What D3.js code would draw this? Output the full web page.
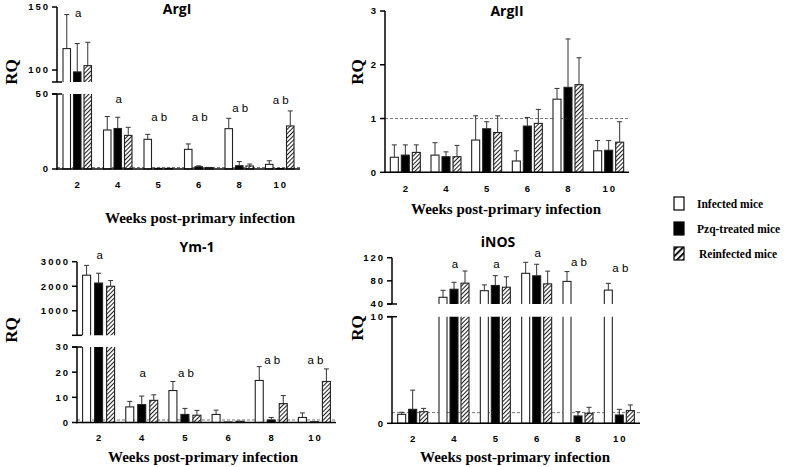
<!DOCTYPE html>
<html><head><meta charset="utf-8">
<script src="https://cdn.jsdelivr.net/npm/d3@7"></script>
<style>body{margin:0;background:#fff}svg{display:block}text{fill:#000}</style>
</head><body><svg id="c" width="787" height="467"></svg>
<script>
// ---------- DATA ----------
const weeks = ["2","4","5","6","8","10"];
const seriesNames = ["Infected mice","Pzq-treated mice","Reinfected mice"];

const argI_infected = [117, 26, 19.8, 13.1, 26.9, 3.1];
const argI_infected_sd = [27, 9, 3.3, 3.6, 6.9, 2.4];
const argI_pzq = [98.5, 27, 0.4, 1.5, 2.2, 0.3];
const argI_pzq_sd = [22.5, 7.5, 0.2, 0.6, 2.8, 0.1];
const argI_reinf = [103.5, 22.4, 0.4, 1.0, 2.0, 28.7];
const argI_reinf_sd = [18.5, 5.4, 0.2, 0.5, 1.3, 10];
const argI_sig = ["a","a","a b","a b","a b","a b"];
const argI_sigAt = [142, 44, 32, 32, 38, 43.3];

const argII_infected = [0.28, 0.32, 0.60, 0.21, 1.36, 0.40];
const argII_infected_sd = [0.23, 0.23, 0.45, 0.19, 0.20, 0.19];
const argII_pzq = [0.32, 0.29, 0.81, 0.86, 1.58, 0.41];
const argII_pzq_sd = [0.19, 0.09, 0.13, 0.16, 0.90, 0.18];
const argII_reinf = [0.37, 0.29, 0.74, 0.91, 1.63, 0.56];
const argII_reinf_sd = [0.14, 0.21, 0.31, 0.26, 0.50, 0.38];
const argII_sig = ["","","","","",""];
const argII_sigAt = [null,null,null,null,null,null];

const ym1_infected = [2450, 6.2, 12.7, 3.2, 16.7, 2.0];
const ym1_infected_sd = [400, 2.2, 3.6, 1.7, 5.5, 1.8];
const ym1_pzq = [2130, 7.1, 3.2, 0.2, 1.0, 0.3];
const ym1_pzq_sd = [400, 3.4, 2.4, 0.1, 1.0, 0.1];
const ym1_reinf = [2000, 8.8, 2.9, 0.5, 7.5, 16.3];
const ym1_reinf_sd = [230, 2.2, 1.9, 0.1, 3.2, 5.0];
const ym1_sig = ["a","a","a b","","a b","a b"];
const ym1_sigAt = [3090, 18, 18, null, 23.4, 23.4];

const inos_infected = [0.84, 51.6, 63, 93, 79, 64];
const inos_infected_sd = [0.19, 12, 10, 19, 17, 11.7];
const inos_pzq = [1.31, 65.5, 72, 88.7, 0.69, 0.78];
const inos_pzq_sd = [1.8, 12, 17, 20, 0.4, 0.53];
const inos_reinf = [1.09, 76, 69, 74.8, 0.94, 1.19];
const inos_reinf_sd = [0.31, 21, 18, 22, 0.56, 0.53];
const inos_sig = ["","a","a","a","a b","a b"];
const inos_sigAt = [null, 101.6, 101.6, 121.5, 106, 95.7];

const argI_ticksLow = [0, 50], argI_ticksHigh = [100, 150];
const argII_ticks = [0, 1, 2, 3];
const ym1_ticksLow = [0, 10, 20, 30], ym1_ticksHigh = [1000, 2000, 3000];
const inos_ticksLow = [0, 10], inos_ticksHigh = [40, 80, 120];
const refLine = 1;

// ---------- DRAW ----------
const svg = d3.select("#c");
const defs = svg.append("defs");
const pat = defs.append("pattern").attr("id","hatch").attr("patternUnits","userSpaceOnUse")
  .attr("width",3).attr("height",3).attr("patternTransform","rotate(45)");
pat.append("rect").attr("width",3).attr("height",3).attr("fill","#fff");
pat.append("line").attr("x1",0.5).attr("y1",0).attr("x2",0.5).attr("y2",3).attr("stroke","#222").attr("stroke-width",1.1);
const pat2 = defs.append("pattern").attr("id","hatchL").attr("patternUnits","userSpaceOnUse")
  .attr("width",4.5).attr("height",4.5).attr("patternTransform","rotate(45)");
pat2.append("rect").attr("width",4.5).attr("height",4.5).attr("fill","#fff");
pat2.append("line").attr("x1",1).attr("y1",0).attr("x2",1).attr("y2",4.5).attr("stroke","#111").attr("stroke-width",2);

const fills = ["#fff", "#000", "url(#hatch)"];
const tickFont = "'Liberation Sans', Arial, sans-serif";
const serif = "'Liberation Serif', 'Times New Roman', serif";
let clipId = 0;

function panel(cfg) {
  const g = svg.append("g");
  const x = d3.scaleBand().domain(weeks).range(cfg.xRange);
  const cx = w => x(w) + x.bandwidth() / 2;
  const segs = cfg.segments.map(s => Object.assign({}, s, {y: d3.scaleLinear().domain(s.domain).range(s.range)}));
  const ax = cfg.xRange[0];
  const base = segs[0].range[0];

  g.append("line").attr("x1", ax).attr("x2", cfg.xRange[1])
    .attr("y1", segs[0].y(refLine)).attr("y2", segs[0].y(refLine))
    .attr("stroke", "#777").attr("stroke-width", 1).attr("stroke-dasharray", "3,2");

  const segOf = v => {
    let idx = 0;
    for (let i = 1; i < segs.length; i++) if (v > segs[i-1].domain[1]) idx = i;
    return segs[idx];
  };

  const flat = [];
  cfg.series.forEach((s, k) => s.values.forEach((v, j) => flat.push({k, w: weeks[j], v, e: s.sd[j]})));

  segs.forEach((s, i) => {
    const id = "clip" + (clipId++);
    const top = i === 0 ? s.range[1] : s.range[1] - 40;
    const bot = i === 0 ? s.range[0] + 2 : s.range[0];
    defs.append("clipPath").attr("id", id).append("rect")
      .attr("x", ax - 2).attr("width", cfg.xRange[1] - ax + 10)
      .attr("y", top).attr("height", bot - top);
    const data = flat.filter(d => i === 0 || d.v > segs[i-1].domain[1]);
    g.append("g").attr("clip-path", `url(#${id})`).selectAll("rect").data(data).join("rect")
      .attr("x", d => cx(d.w) + (d.k - 1) * cfg.off - cfg.bw / 2)
      .attr("width", cfg.bw)
      .attr("y", d => d.v > s.domain[1] ? s.range[1] - 5 : s.y(d.v))
      .attr("height", d => {
        const t = d.v > s.domain[1] ? s.range[1] - 5 : s.y(d.v);
        const b = i === 0 ? s.range[0] : s.range[0] + 5;
        return Math.max(0, b - t);
      })
      .attr("fill", d => fills[d.k]).attr("stroke", "#222").attr("stroke-width", 1.1);
  });

  const eg = g.append("g").attr("stroke", "#333").attr("stroke-width", 1).attr("fill", "none");
  flat.forEach(d => {
    const s = segOf(d.v);
    const xx = cx(d.w) + (d.k - 1) * cfg.off;
    const y1 = s.y(d.v), y2 = s.y(d.v + d.e);
    if (y1 - y2 < 0.8) return;
    eg.append("line").attr("x1", xx).attr("x2", xx).attr("y1", y1).attr("y2", y2);
    eg.append("line").attr("x1", xx - 2.5).attr("x2", xx + 2.5).attr("y1", y2).attr("y2", y2);
  });

  const ag = g.append("g").attr("stroke", "#000").attr("stroke-width", 1.5);
  ag.append("line").attr("x1", ax - 1).attr("x2", cfg.xRange[1]).attr("y1", base).attr("y2", base);
  segs.forEach((s, i) => {
    ag.append("line").attr("x1", ax).attr("x2", ax).attr("y1", s.range[0] + (i === 0 ? 0.7 : 0)).attr("y2", s.range[1]);
    s.ticks.forEach(t => {
      ag.append("line").attr("x1", ax - 5).attr("x2", ax).attr("y1", s.y(t)).attr("y2", s.y(t));
      g.append("text").attr("x", ax - 7).attr("y", s.y(t)).attr("dy", "0.36em")
        .attr("text-anchor", "end").attr("font-family", tickFont).attr("font-weight", "bold")
        .attr("font-size", 9.5).attr("letter-spacing", "2px").text(t);
    });
  });
  if (segs.length > 1) {
    [segs[0].range[1], segs[1].range[0]].forEach(yy => {
      ag.append("line").attr("x1", ax - 5).attr("x2", ax + 5).attr("y1", yy).attr("y2", yy);
    });
  }

  g.selectAll(".xl").data(weeks).join("text")
    .attr("x", w => cx(w) + 1).attr("y", cfg.xTickY).attr("text-anchor", "middle")
    .attr("font-family", tickFont).attr("font-weight", "bold").attr("font-size", 9.5)
    .attr("letter-spacing", "2px").text(w => w);

  cfg.sig.forEach((t, j) => {
    if (!t) return;
    const s = segOf(cfg.sigAt[j] > segs[0].domain[1] ? cfg.sigAt[j] : 0);
    g.append("text").attr("x", cx(weeks[j]) + 1).attr("y", s.y(cfg.sigAt[j]))
      .attr("text-anchor", "middle").attr("font-family", tickFont).attr("font-size", 11.5).text(t);
  });

  g.append("text").attr("x", cfg.title[1]).attr("y", cfg.title[2]).attr("text-anchor", "middle")
    .attr("font-family", "'Open Sans', Lato, sans-serif").attr("font-weight", "bold").attr("font-size", 14).text(cfg.title[0]);
  g.append("text").attr("transform", `translate(${cfg.rq[0]},${cfg.rq[1]}) rotate(-90)`)
    .attr("text-anchor", "middle").attr("font-family", serif).attr("font-weight", "bold").attr("font-size", 17).text("RQ");
  g.append("text").attr("x", cfg.xt[0]).attr("y", cfg.xt[1]).attr("text-anchor", "middle")
    .attr("font-family", serif).attr("font-weight", "bold").attr("font-size", 15).text("Weeks post-primary infection");
}

panel({
  xRange: [57, 300], off: 10.5, bw: 7.5, xTickY: 188,
  segments: [
    {domain: [0, 50], range: [169, 94], ticks: argI_ticksLow},
    {domain: [90.5, 150], range: [82, 7], ticks: argI_ticksHigh}
  ],
  series: [
    {values: argI_infected, sd: argI_infected_sd},
    {values: argI_pzq, sd: argI_pzq_sd},
    {values: argI_reinf, sd: argI_reinf_sd}
  ],
  sig: argI_sig, sigAt: argI_sigAt,
  title: ["ArgI", 177, 14], rq: [17, 72], xt: [200, 223]
});

panel({
  xRange: [385, 629], off: 11, bw: 8, xTickY: 192,
  segments: [{domain: [0, 3], range: [172.3, 11], ticks: argII_ticks}],
  series: [
    {values: argII_infected, sd: argII_infected_sd},
    {values: argII_pzq, sd: argII_pzq_sd},
    {values: argII_reinf, sd: argII_reinf_sd}
  ],
  sig: argII_sig, sigAt: argII_sigAt,
  title: ["ArgII", 507, 16], rq: [363, 72], xt: [506, 214]
});

panel({
  xRange: [77, 336], off: 12, bw: 8, xTickY: 441,
  segments: [
    {domain: [0, 30], range: [422.5, 347], ticks: ym1_ticksLow},
    {domain: [0, 3000], range: [335.3, 261.7], ticks: ym1_ticksHigh}
  ],
  series: [
    {values: ym1_infected, sd: ym1_infected_sd},
    {values: ym1_pzq, sd: ym1_pzq_sd},
    {values: ym1_reinf, sd: ym1_reinf_sd}
  ],
  sig: ym1_sig, sigAt: ym1_sigAt,
  title: ["Ym-1", 197, 252], rq: [17, 330], xt: [203, 462]
});

panel({
  xRange: [392, 640], off: 11, bw: 8, xTickY: 442,
  segments: [
    {domain: [0, 10], range: [423.3, 316.7], ticks: inos_ticksLow},
    {domain: [40, 120], range: [304, 257.7], ticks: inos_ticksHigh}
  ],
  series: [
    {values: inos_infected, sd: inos_infected_sd},
    {values: inos_pzq, sd: inos_pzq_sd},
    {values: inos_reinf, sd: inos_reinf_sd}
  ],
  sig: inos_sig, sigAt: inos_sigAt,
  title: ["iNOS", 498, 247], rq: [363, 328], xt: [515, 462]
});

const legFills = ["#fff", "#000", "url(#hatchL)"];
const lg = svg.append("g");
const legY = d3.scaleBand().domain(seriesNames).range([191, 266]);
seriesNames.forEach((n, i) => {
  const yy = legY(n) + legY.bandwidth() / 2;
  lg.append("rect").attr("x", 674).attr("y", yy - 6.5).attr("width", 10).attr("height", 13)
    .attr("fill", legFills[i]).attr("stroke", "#000").attr("stroke-width", 1.2);
  lg.append("text").attr("x", i === 2 ? 699 : 697).attr("y", yy + 4).attr("font-family", serif)
    .attr("font-weight", "bold").attr("font-size", 11.5).text(n);
});
</script></body></html>
